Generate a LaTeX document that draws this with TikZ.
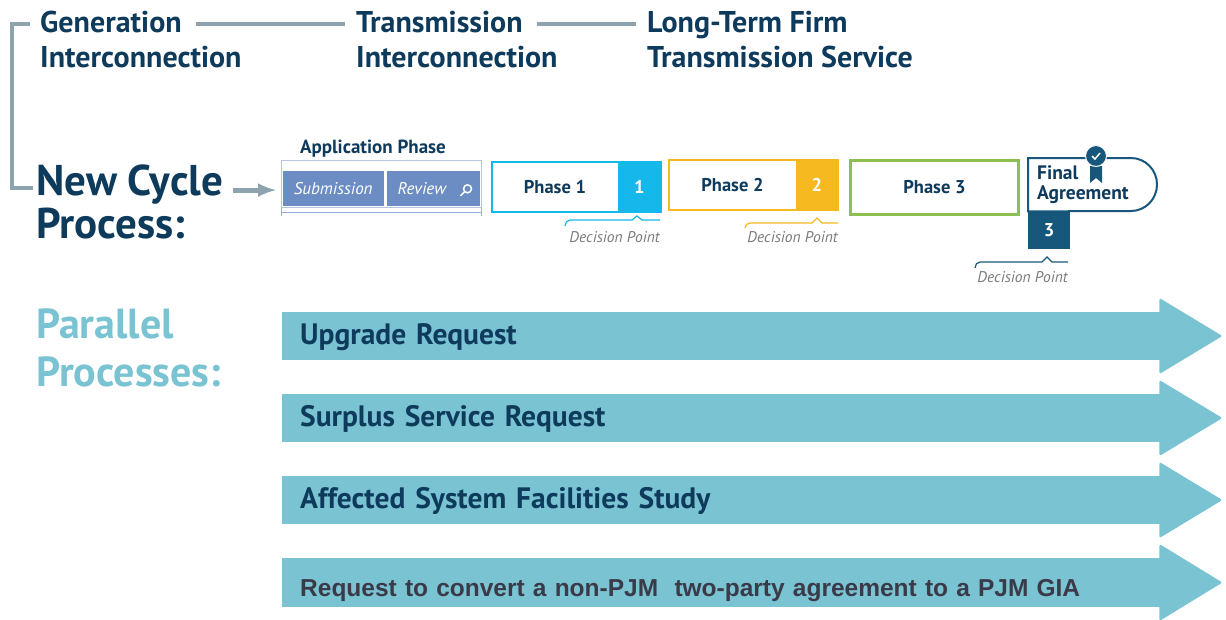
\documentclass[tikz,border=0pt]{standalone}
\usepackage{fontspec}
\setmainfont{PT Sans}
\newfontfamily\arialfont{Liberation Sans}
\usetikzlibrary{positioning}
\definecolor{navy}{HTML}{0E3A5C}
\definecolor{linkgray}{HTML}{8DA3AE}
\definecolor{appblue}{HTML}{6B8DC4}
\definecolor{cyanA}{HTML}{14B8EA}
\definecolor{amber}{HTML}{F6B920}
\definecolor{leaf}{HTML}{8CC152}
\definecolor{finblue}{HTML}{17577B}
\definecolor{parteal}{HTML}{79C3D2}
\definecolor{dpgray}{HTML}{7A7A7A}
\definecolor{ink}{HTML}{3A3A48}

\begin{document}
\begin{tikzpicture}[x=1pt, y=-1pt,
    head/.style = {anchor=base west, inner sep=0pt, text=navy, font=\fontsize{30}{30}\selectfont\bfseries},
    big head/.style = {anchor=base west, inner sep=0pt, text=navy, font=\fontsize{43}{43}\selectfont\bfseries},
    link/.style = {linkgray, line width=4pt},
    app cell/.style = {fill=appblue, minimum height=35pt, inner sep=0pt, text=white, font=\fontsize{17}{17}\selectfont\itshape},
    phase/.style = {fill=white, minimum width=126pt, minimum height=50pt, inner sep=0pt, text=navy, font=\fontsize{18.5}{18.5}\selectfont\bfseries},
    num/.style = {minimum width=42pt, minimum height=50pt, inner sep=0pt, text=white, font=\fontsize{18.5}{18.5}\selectfont\bfseries},
    dp/.style = {line width=1.2pt},
    dp text/.style = {anchor=base east, inner sep=0pt, text=dpgray, font=\fontsize{15.5}{15.5}\selectfont\itshape},
    par body/.style = {fill=parteal, anchor=north west, minimum width=878pt, minimum height=48pt, inner xsep=18pt, inner ysep=0pt, text width=842pt, align=left, text=navy, font=\fontsize{29.5}{29.5}\selectfont\bfseries},
    par head/.style = {fill=parteal, rounded corners=2pt}]
    \useasboundingbox (0,0) rectangle (1226,619);

    % top row of process names
    \node[head] (gen1) at (40,32) {Generation};
    \node[head] (gen2) at (40,67) {Interconnection};
    \node[head] (trans1) at (356,32) {Transmission};
    \node[head] (trans2) at (356,67) {Interconnection};
    \node[head] (ltf1) at (647,32) {Long-Term Firm};
    \node[head] (ltf2) at (647,67) {Transmission Service};

    \draw[link, shorten <=14pt, shorten >=11pt] ([yshift=-2pt]gen1.east) -- ([yshift=-2pt]gen1.east -| trans1.west);
    \draw[link, shorten <=14pt, shorten >=11pt] ([yshift=-2pt]trans1.east) -- ([yshift=-2pt]trans1.east -| ltf1.west);

    \node[big head] (newc1) at (36,195) {New Cycle};
    \node[big head] (newc2) at (36,238) {Process:};
    \draw[link, line join=miter, shorten <=10pt, shorten >=3pt] ([yshift=-2pt]gen1.west) -- ++(-28,0) |- ([yshift=-4pt]newc1.west);

    % application phase
    \node[draw=appblue!50, line width=1pt, minimum width=200pt, minimum height=47pt, inner sep=0pt, anchor=north west] (app) at (281,160) {};
    \node[app cell, minimum width=101pt, anchor=south west] (sub) at ([shift={(1.5,-1.5)}]app.south west) {Submission};
    \node[app cell, minimum width=93pt, anchor=south east] (rev) at ([shift={(-1.5,-1.5)}]app.south east) {Review\kern24pt};
    \draw[white, line width=1.5pt] ([xshift=-13pt]rev.east) circle (4pt) ++(-3,3) -- ++(-4,4);
    \node[anchor=base, inner sep=0pt, text=navy, font=\fontsize{19}{19}\selectfont\bfseries] (app lbl) at (373,153) {Application Phase};
    \draw[appblue!70, line width=0.8pt, |-|] ([yshift=-4pt]app.south west) -- ([yshift=-4pt]app.south east);

    \draw[link, line width=5pt, -latex, shorten <=10pt, shorten >=5pt] ([yshift=-6pt]newc1.east) -- ([yshift=-6pt]newc1.east -| app.west);

    % phases
    \node[phase] (ph1) at (555,187) {Phase 1};
    \node[num, fill=cyanA, anchor=west] (num1) at (ph1.east) {1};
    \draw[cyanA, line width=2pt] (ph1.north west) rectangle (num1.south east);
    \draw[dp, cyanA] (565,226) to[out=90, in=180] (570,220) -- (632,220) -- (637,216) -- (642,220) -- (660,220);
    \node[dp text] (dp1) at (660,242) {Decision Point};

    \node[phase] (ph2) at (732.5,185) {Phase 2};
    \node[num, fill=amber, anchor=west] (num2) at (ph2.east) {2};
    \draw[amber, line width=2pt] (ph2.north west) rectangle (num2.south east);
    \draw[dp, amber] (745,228) to[out=90, in=180] (750,223) -- (812,223) -- (817,218) -- (822,223) -- (838,223);
    \node[dp text] (dp2) at (838,242) {Decision Point};

    \node[phase, draw=leaf, line width=3pt, minimum width=168pt, minimum height=54pt] (ph3) at (934.5,187) {Phase 3};

    % final agreement
    \node[anchor=north west, minimum height=53pt, text width=100pt, inner xsep=9pt, inner ysep=0pt, align=left, text=navy, font=\fontsize{19.5}{19.5}\selectfont\bfseries] (fin) at (1028,158) {Final\\Agreement};
    \draw[finblue, line width=2pt] (fin.north west) -- ++(103,0) to[out=0, in=90] ++(26,26.5) to[out=-90, in=0] ++(-26,26.5) -- (fin.south west) -- cycle;
    \fill[finblue] (1090,166) -- (1102,166) -- (1102,183) -- (1096,178) -- (1090,183) -- cycle;
    \node[circle, fill=finblue, draw=white, line width=1pt, minimum size=21pt, inner sep=0pt] (badge) at (1096,156) {};
    \draw[white, line width=1.5pt] ([shift={(-4,0)}]badge.center) -- ++(3,3) -- ++(5,-6);
    \node[num, fill=finblue, minimum height=37pt, anchor=north west] (num3) at (fin.south west) {3};
    \draw[dp, finblue] (975,268) to[out=90, in=180] (980,262) -- (1042,262) -- (1047,257) -- (1052,262) -- (1068,262);
    \node[dp text] (dp3) at (1068,282) {Decision Point};

    % parallel processes
    \node[big head, text=parteal, font=\fontsize{42}{42}\selectfont\bfseries] (par1) at (36,338) {Parallel};
    \node[big head, text=parteal, font=\fontsize{42}{42}\selectfont\bfseries] (par2) at (36,386) {Processes:};

    \node[par body, text height=22pt] (upg) at (282,312) {Upgrade Request};
    \fill[par head] ([xshift=-1pt]upg.north east) ++(0,-14) -- ++(63,38) -- ++(-63,38) -- cycle;

    \node[par body, text height=22pt] (surplus) at (282,394) {Surplus Service Request};
    \fill[par head] ([xshift=-1pt]surplus.north east) ++(0,-14) -- ++(63,38) -- ++(-63,38) -- cycle;

    \node[par body, text height=22pt] (affected) at (282,476) {Affected System Facilities Study};
    \fill[par head] ([xshift=-1pt]affected.north east) ++(0,-14) -- ++(63,38) -- ++(-63,38) -- cycle;

    \node[par body, minimum height=49pt, text=ink, text height=33pt, font=\arialfont\fontsize{24.5}{24.5}\selectfont\bfseries] (convert) at (282,558) {Request to convert a non-PJM~ two-party agreement to a PJM GIA};
    \fill[par head] ([xshift=-1pt]convert.north east) ++(0,-14) -- ++(63,38.5) -- ++(-63,38.5) -- cycle;
\end{tikzpicture}
\end{document}
